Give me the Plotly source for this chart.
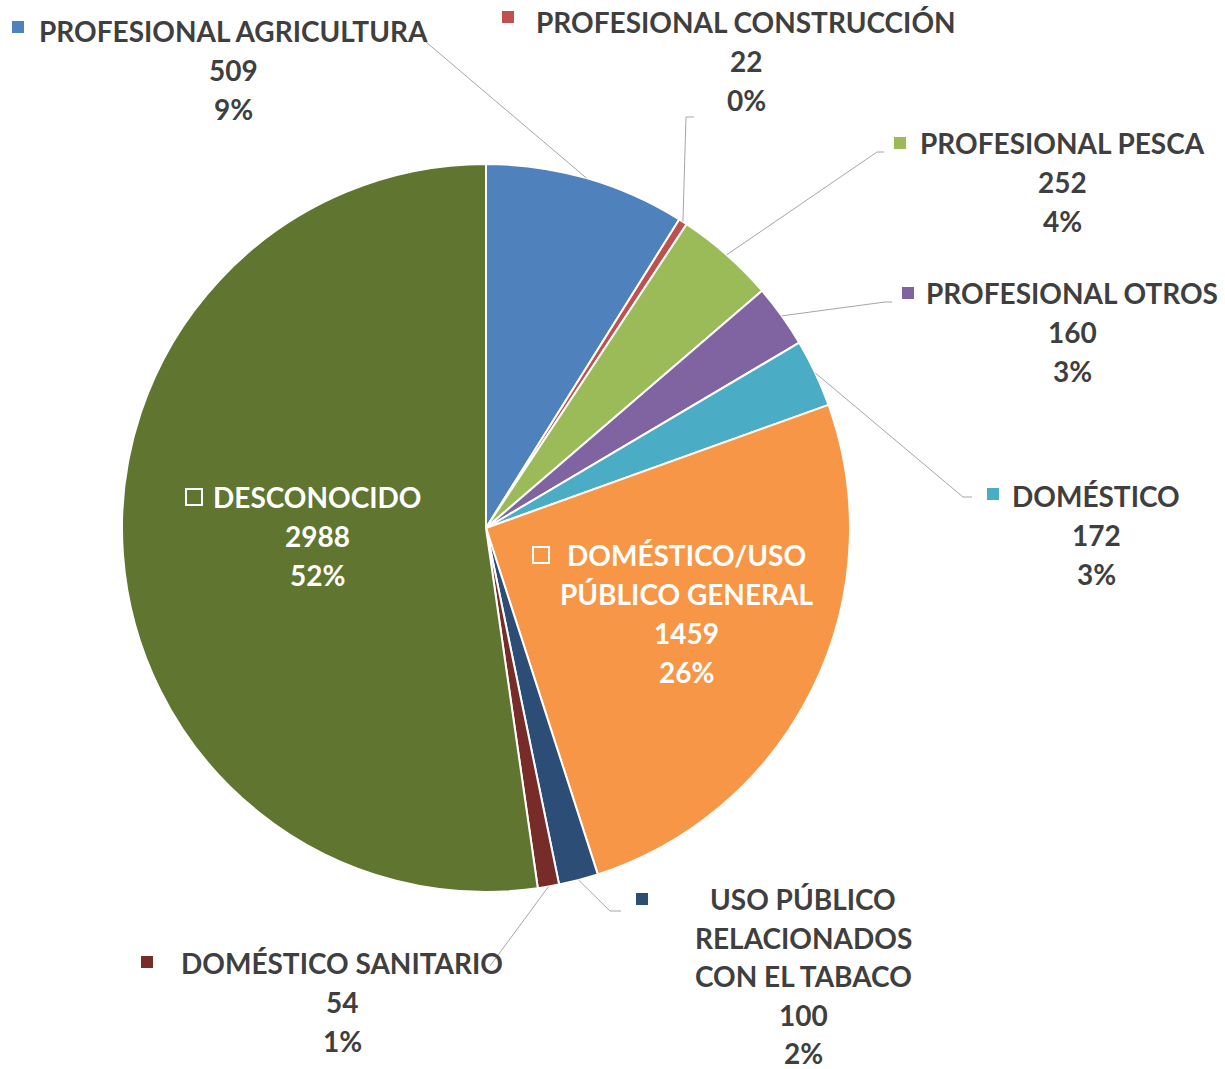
import math
import plotly.graph_objects as go

# ---------------- data ----------------
categories = [
    "PROFESIONAL AGRICULTURA",
    "PROFESIONAL CONSTRUCCIÓN",
    "PROFESIONAL PESCA",
    "PROFESIONAL OTROS",
    "DOMÉSTICO",
    "DOMÉSTICO/USO PÚBLICO GENERAL",
    "USO PÚBLICO RELACIONADOS CON EL TABACO",
    "DOMÉSTICO SANITARIO",
    "DESCONOCIDO",
]
values = [509, 22, 252, 160, 172, 1459, 100, 54, 2988]
colors = ["#4F81BD", "#C0504D", "#9BBB59", "#8064A2", "#4BACC6",
          "#F79646", "#2C4D75", "#772C2A", "#5F7530"]
# how each label is broken into lines
label_lines = [
    ["PROFESIONAL AGRICULTURA"],
    ["PROFESIONAL CONSTRUCCIÓN"],
    ["PROFESIONAL PESCA"],
    ["PROFESIONAL OTROS"],
    ["DOMÉSTICO"],
    ["DOMÉSTICO/USO", "PÚBLICO GENERAL"],
    ["USO PÚBLICO", "RELACIONADOS", "CON EL TABACO"],
    ["DOMÉSTICO SANITARIO"],
    ["DESCONOCIDO"],
]
inside = [False, False, False, False, False, True, False, False, True]

# ---------------- layout (pixels, page coordinates) ----------------
W, H = 1225, 1069
CX, CY, R = 486, 528, 364
FONT = "Lato"
FS = 28
DARK = "#3F3F3F"
GRAY = "#A6A6A6"

# label placement: (center x of text, y of first line, line step, marker x, marker y)
label_pos = [
    (234, 31, 39, 18, 27),
    (746, 22, 39, 508, 17),
    (1062, 143, 39, 900, 143),
    (1072, 293, 39, 908, 293),
    (1096, 496, 39, 993, 494),
    (687, 555, 39, 541, 555),
    (803, 899, 38.5, 642, 899),
    (342, 963, 39, 147, 962),
    (317, 497, 39, 194, 497),
]
# leader-line elbow / end points (pixels), None for inside labels
leader = [
    [(426, 42)],
    [(686, 117), (694, 117)],
    [(877, 152), (884, 152)],
    [(885, 302), (892, 302)],
    [(963, 497), (972, 497)],
    None,
    [(610, 911), (621, 911)],
    [(490, 966)],
    None,
]


def px(x):
    return x / W


def py(y):
    return 1 - y / H


total = sum(values)
pcts = [round(100 * v / total) for v in values]

fig = go.Figure()
fig.add_trace(go.Pie(
    labels=categories,
    values=values,
    sort=False,
    direction="clockwise",
    rotation=0,
    marker=dict(colors=colors, line=dict(color="white", width=2)),
    textinfo="none",
    hoverinfo="label+value+percent",
    showlegend=False,
    domain=dict(x=[px(CX - R), px(CX + R)], y=[py(CY + R), py(CY - R)]),
))

annotations = []
shapes = []
cum = 0
for i, v in enumerate(values):
    mid = (cum + v / 2) / total
    cum += v
    theta = 2 * math.pi * mid
    ex = CX + R * math.sin(theta)
    ey = CY - R * math.cos(theta)
    tx, ty, step, mx, my = label_pos[i]
    color = "white" if inside[i] else DARK
    lines = label_lines[i] + [str(v), f"{pcts[i]}%"]
    for j, t in enumerate(lines):
        annotations.append(dict(
            x=px(tx), y=py(ty + j * step), xref="paper", yref="paper",
            text=f"<b>{t}</b>", showarrow=False, xanchor="center", yanchor="middle",
            font=dict(family=FONT, size=FS, color=color),
        ))
    # marker square
    if inside[i]:
        shapes.append(dict(type="rect", xref="paper", yref="paper",
                           x0=px(mx - 8), x1=px(mx + 8), y0=py(my + 8), y1=py(my - 8),
                           line=dict(color="white", width=2), fillcolor="rgba(0,0,0,0)"))
    else:
        shapes.append(dict(type="rect", xref="paper", yref="paper",
                           x0=px(mx - 6), x1=px(mx + 6), y0=py(my + 6), y1=py(my - 6),
                           line=dict(width=0), fillcolor=colors[i]))
    # leader line from slice edge
    if leader[i]:
        pts = [(ex, ey)] + leader[i]
        for (x0, y0), (x1, y1) in zip(pts[:-1], pts[1:]):
            shapes.append(dict(type="line", xref="paper", yref="paper",
                               x0=px(x0), y0=py(y0), x1=px(x1), y1=py(y1),
                               line=dict(color=GRAY, width=1)))

fig.update_layout(
    width=W, height=H, autosize=False,
    margin=dict(l=0, r=0, t=0, b=0),
    paper_bgcolor="white", plot_bgcolor="white",
    annotations=annotations, shapes=shapes,
)

fig.write_html(
    "out.html",
    config={"displayModeBar": False},
    post_script="document.body.style.margin='0';document.body.style.overflow='hidden';",
)
